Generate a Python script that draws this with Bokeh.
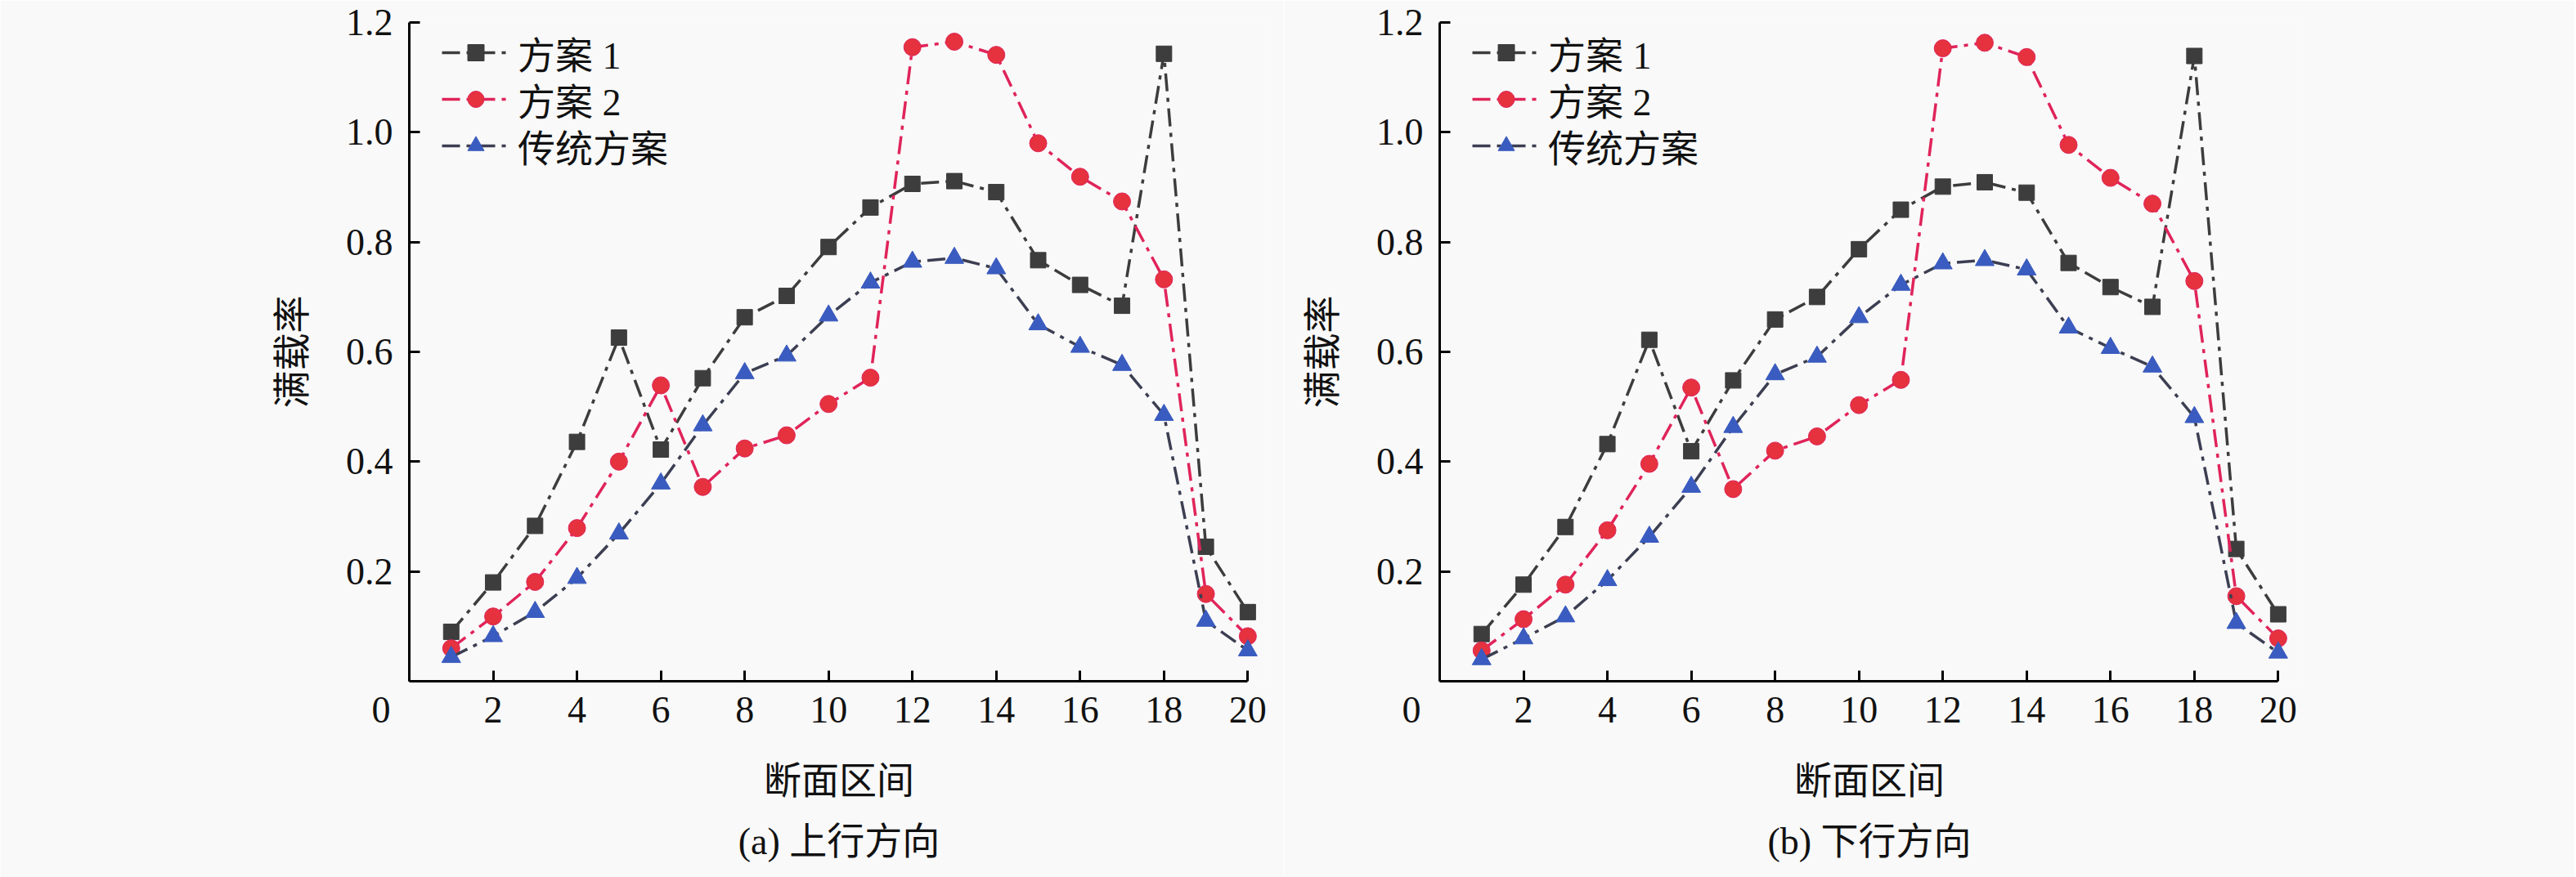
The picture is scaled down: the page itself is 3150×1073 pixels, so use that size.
#load factor chart: up and down directions
from bokeh.plotting import figure
from bokeh.layouts import row
from bokeh.models import (Range1d, FixedTicker, Legend, LegendItem, Title,
                          NumeralTickFormatter)
from bokeh.embed import file_html
from bokeh.resources import INLINE

#data
sections = list(range(1, 21))

up_plan1 = [0.090, 0.180, 0.283, 0.436, 0.626, 0.422, 0.552, 0.663, 0.702, 0.791,
            0.863, 0.906, 0.911, 0.891, 0.767, 0.722, 0.684, 1.143, 0.245, 0.126]
up_plan2 = [0.060, 0.118, 0.181, 0.279, 0.400, 0.539, 0.354, 0.424, 0.448, 0.505,
            0.553, 1.155, 1.165, 1.141, 0.980, 0.919, 0.874, 0.732, 0.159, 0.082]
up_trad = [0.044, 0.082, 0.126, 0.188, 0.269, 0.360, 0.466, 0.561, 0.593, 0.666,
           0.726, 0.764, 0.771, 0.752, 0.650, 0.609, 0.576, 0.485, 0.110, 0.056]

down_plan1 = [0.086, 0.176, 0.281, 0.432, 0.622, 0.419, 0.548, 0.659, 0.700, 0.787,
              0.859, 0.901, 0.909, 0.890, 0.762, 0.718, 0.682, 1.139, 0.241, 0.122]
down_plan2 = [0.056, 0.113, 0.176, 0.275, 0.396, 0.535, 0.350, 0.420, 0.446, 0.503,
              0.549, 1.153, 1.163, 1.137, 0.977, 0.917, 0.870, 0.729, 0.155, 0.078]
down_trad = [0.040, 0.078, 0.118, 0.184, 0.263, 0.354, 0.463, 0.559, 0.591, 0.663,
             0.722, 0.761, 0.767, 0.750, 0.644, 0.607, 0.573, 0.481, 0.106, 0.052]

series_names = ["方案 1", "方案 2", "传统方案"]
x_ticks = [0, 2, 4, 6, 8, 10, 12, 14, 16, 18, 20]
y_ticks = [0.2, 0.4, 0.6, 0.8, 1.0, 1.2]
x_title = "断面区间"
y_title = "满载率"

#styles
FONT = "Liberation Serif, Noto Sans CJK SC"
BG = "#f9f9f9"
DASH = "22 8 5 8"
FS = "46px"
INK = "#111111"
#legend rows, bottom-left offsets in px from the frame's bottom-left
LEGEND_ROWS = [(40, 736), (40, 679), (40, 622)]


def make_plot(plan1, plan2, trad, caption, width, left, right):
    f = figure(width=width, height=1073, output_backend="svg", toolbar_location=None,
               x_range=Range1d(0, 20.5), y_range=Range1d(0, 1.2),
               min_border_left=left, min_border_right=right,
               min_border_top=27, min_border_bottom=240,
               background_fill_color=BG, border_fill_color=BG)
    f.outline_line_color = None
    f.grid.visible = False

    for ax in (f.xaxis[0], f.yaxis[0]):
        ax.axis_line_width = 3
        ax.major_tick_line_width = 3
        ax.major_tick_in = 13
        ax.major_tick_out = 0
        ax.minor_tick_line_color = None
        ax.major_label_text_font = FONT
        ax.major_label_text_font_size = FS
        ax.major_label_text_color = INK
        ax.axis_label_text_font = FONT
        ax.axis_label_text_font_size = FS
        ax.axis_label_text_font_style = "normal"
        ax.axis_label_text_color = INK
    f.xaxis.ticker = FixedTicker(ticks=x_ticks)
    f.yaxis.ticker = FixedTicker(ticks=y_ticks)
    f.xaxis.bounds = (0, 20)
    #the shared origin label sits left of the corner
    f.xaxis.major_label_overrides = {0: "0" + "\u00a0" * 6}
    f.xaxis.major_label_standoff = 9
    f.yaxis.major_label_standoff = 20
    f.yaxis.formatter = NumeralTickFormatter(format="0.0")
    f.xaxis.axis_label = x_title
    f.xaxis.axis_label_standoff = 33
    f.yaxis.axis_label = y_title
    f.yaxis.axis_label_standoff = 37

    #series
    l1 = f.line(sections, plan1, line_color="#3d3d3d", line_width=3.5, line_dash=DASH)
    m1 = f.scatter(sections, plan1, marker="square", size=19,
                   fill_color="#3d3d3d", line_color="#3d3d3d")
    l2 = f.line(sections, plan2, line_color="#e0245a", line_width=3.5, line_dash=DASH)
    m2 = f.scatter(sections, plan2, marker="circle", size=21,
                   fill_color="#e5323e", line_color="#e0245a")
    l3 = f.line(sections, trad, line_color="#3c3f52", line_width=3.5, line_dash=DASH)
    m3 = f.scatter(sections, trad, marker="triangle", size=23,
                   fill_color="#3a5bbf", line_color="#3a5bbf")

    #one legend per row so the row pitch matches the reference
    for name, rends, loc in zip(series_names, [[l1, m1], [l2, m2], [l3, m3]], LEGEND_ROWS):
        legend = Legend(items=[LegendItem(label=name, renderers=rends)], location=loc)
        legend.background_fill_alpha = 0
        legend.border_line_alpha = 0
        legend.padding = 0
        legend.margin = 0
        legend.glyph_width = 83
        legend.glyph_height = 50
        legend.label_height = 50
        legend.label_standoff = 10
        legend.label_text_font = FONT
        legend.label_text_font_size = FS
        legend.label_text_color = INK
        f.add_layout(legend)

    #panel caption under the axis title
    f.add_layout(Title(text=caption, align="center", text_font=FONT,
                       text_font_size=FS, text_font_style="normal",
                       text_color=INK, standoff=36), "below")
    return f


p1 = make_plot(up_plan1, up_plan2, up_trad, "(a) 上行方向", 1570, 500, 19)
p2 = make_plot(down_plan1, down_plan2, down_trad, "(b) 下行方向", 1578, 190, 337)

p = row(p1, p2)
open("out.html", "w").write(file_html(p, INLINE))
